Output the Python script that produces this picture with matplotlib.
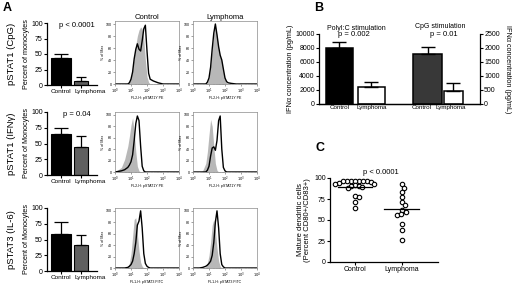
import numpy as np
import matplotlib
matplotlib.use("Agg")
import matplotlib.pyplot as plt
import matplotlib.transforms as mtransforms

plt.rcParams['font.family'] = ['Liberation Sans', 'DejaVu Sans']

# ---------------- data ----------------
groups = ["Control", "Lymphoma"]
row_labels = ["pSTAT1 (CpG)", "pSTAT1 (IFN\u03b3)", "pSTAT3 (IL-6)"]
row_ylabels = ["Percent of monocytes", "Percent of Monocytes", "Percent of Monocytes"]
row_pvals = ["p < 0.0001", "p = 0.04", ""]
pct_mean = [[43, 6], [65, 44], [59, 41]]
pct_err = [[7, 7], [9, 18], [18, 16]]

# histogram channels (fluorescence intensity) and % of max
fl_channel = [1, 2.5, 4, 6.3, 7.9, 10, 12.6, 15.8, 20, 25, 31.6, 40, 50, 63, 79,
              100, 126, 158, 251, 501, 1000, 10000]
hist_gray = [
    [[0, 0, 0, 0, 3, 10, 25, 45, 65, 80, 90, 95, 92, 75, 40, 12, 3, 0, 0, 0, 0, 0],
     [0, 0, 0, 0, 3, 10, 30, 60, 85, 98, 80, 60, 45, 38, 22, 8, 2, 0, 0, 0, 0, 0]],
    [[0, 8, 22, 45, 62, 82, 95, 70, 35, 10, 2, 0, 0, 0, 0, 0, 0, 0, 0, 0, 0, 0],
     [0, 0, 2, 15, 35, 65, 92, 80, 45, 15, 3, 0, 0, 0, 0, 0, 0, 0, 0, 0, 0, 0]],
    [[0, 0, 0, 2, 8, 25, 55, 85, 88, 60, 30, 10, 3, 0, 0, 0, 0, 0, 0, 0, 0, 0],
     [0, 0, 0, 2, 8, 22, 45, 75, 85, 65, 35, 12, 3, 0, 0, 0, 0, 0, 0, 0, 0, 0]],
]
hist_black = [
    [[0, 0, 0, 0, 2, 8, 20, 42, 58, 67, 58, 55, 72, 92, 98, 55, 18, 8, 5, 2, 0, 0],
     [0, 0, 0, 0, 3, 10, 28, 58, 85, 100, 82, 62, 48, 40, 25, 10, 4, 2, 1, 0, 0, 0]],
    [[0, 2, 4, 8, 12, 18, 30, 55, 85, 98, 90, 45, 10, 2, 0, 0, 0, 0, 0, 0, 0, 0],
     [0, 0, 0, 0, 3, 10, 28, 42, 44, 38, 55, 90, 98, 40, 8, 2, 0, 0, 0, 0, 0, 0]],
    [[0, 0, 0, 1, 3, 6, 12, 25, 45, 75, 82, 100, 70, 25, 8, 3, 1, 0, 0, 0, 0, 0],
     [0, 0, 1, 3, 5, 8, 12, 22, 45, 80, 100, 70, 25, 6, 2, 0, 0, 0, 0, 0, 0, 0]],
]
hist_xlabels = ["FL2-H: pSTAT1Y PE", "FL2-H: pSTAT1Y PE", "FL1-H: pSTAT3 FITC"]

# panel B
ifn_titles = ["PolyI:C stimulation", "CpG stimulation"]
ifn_pvals = ["p = 0.002", "p = 0.01"]
ifn_polyic_mean = [8000, 2400]
ifn_polyic_err = [850, 700]
ifn_cpg_mean = [1800, 470]
ifn_cpg_err = [220, 270]

# panel C
dc_control = [97, 97, 97, 96, 96, 96, 96, 95, 94, 93, 93, 92, 91, 90, 89, 88, 78, 77, 71, 64]
dc_lymphoma = [92.5, 88.5, 83, 77, 71, 68, 61.5, 60, 56, 57, 45.6, 38, 25.8]

# ---------------- layout helpers ----------------
W, H = 520, 285
fig = plt.figure(figsize=(W / 100, H / 100), dpi=100)


def box(l, t, r, b):
    return [l / W, 1 - b / H, (r - l) / W, (b - t) / H]


def fx(x):
    return x / W


def fy(y):
    return 1 - y / H


def shift_labels(ax, shifts_px):
    for lab, dx in zip(ax.get_xticklabels(), shifts_px):
        off = mtransforms.ScaledTranslation(dx / 100.0, 0, fig.dpi_scale_trans)
        lab.set_transform(lab.get_transform() + off)


FS = 5.0
FSX = 4.6


def prism_axes(ax):
    for s in ["top", "right"]:
        ax.spines[s].set_visible(False)
    for s in ["left", "bottom"]:
        ax.spines[s].set_linewidth(0.9)
    ax.tick_params(axis="both", labelsize=FS, length=2, width=0.8, pad=1)
    ax.tick_params(axis="x", labelsize=FSX)


# panel letters
fig.text(fx(3), fy(8), "A", fontsize=9, fontweight="bold", va="center", ha="left")
fig.text(fx(314), fy(8), "B", fontsize=9, fontweight="bold", va="center", ha="left")
fig.text(fx(315), fy(148), "C", fontsize=9, fontweight="bold", va="center", ha="left")

# ---------------- panel A ----------------
bar_tops = [23, 112, 208]
bar_bots = [85, 175, 271]
hist_tops = [21, 112, 208]
hist_bots = [84, 172, 268]
hist_cols = [(115, 179), (193, 257)]
bar_colors = ["black", "#606060"]
bar_widths = [1.0, 0.7]
capsizes = [5, 3.5]

for r in range(3):
    ax = fig.add_axes(box(47, bar_tops[r], 97, bar_bots[r]))
    xs = np.arange(len(groups))
    ax.bar(xs, pct_mean[r], width=bar_widths, color=bar_colors, edgecolor="black", linewidth=0.8)
    for i in range(len(groups)):
        ax.errorbar(xs[i], pct_mean[r][i], yerr=[[0], [pct_err[r][i]]], color="black",
                    capsize=capsizes[i], elinewidth=0.9, capthick=0.9, fmt="none")
    ax.set_xlim(-0.7, 1.8)
    ax.set_ylim(0, 100)
    ax.set_yticks([0, 25, 50, 75, 100])
    ax.set_xticks(xs)
    ax.set_xticklabels(groups)
    prism_axes(ax)
    shift_labels(ax, [0, 9])
    ax.set_ylabel(row_ylabels[r], fontsize=5.2, labelpad=1)
    if row_pvals[r]:
        fig.text(fx(77), fy(bar_tops[r] + 2.5), row_pvals[r], ha="center", va="center", fontsize=5.5)
    yc = (bar_tops[r] + bar_bots[r]) / 2
    fig.text(fx(12), fy(yc), row_labels[r], rotation=90, fontsize=6.8, ha="center", va="center")

    for c in range(2):
        l, rr = hist_cols[c]
        hx = fig.add_axes(box(l, hist_tops[r], rr, hist_bots[r]))
        hx.fill_between(fl_channel, hist_gray[r][c], 0, color="#b8b8b8", linewidth=0)
        hx.plot(fl_channel, hist_black[r][c], color="black", linewidth=1.0)
        hx.set_xscale("log")
        hx.set_xlim(1, 1e4)
        hx.set_ylim(0, 105)
        hx.set_xticks([1, 10, 100, 1000, 10000])
        hx.set_xticklabels([r"$10^0$", r"$10^1$", r"$10^2$", r"$10^3$", r"$10^4$"])
        hx.set_yticks([0, 20, 40, 60, 80, 100])
        hx.tick_params(axis="both", which="major", labelsize=2.6, length=1.5, width=0.4, pad=0.5,
                       color="#555555")
        hx.tick_params(axis="x", which="minor", length=0.8, width=0.3, color="#777777")
        for s in hx.spines.values():
            s.set_linewidth(0.5)
            s.set_color("#8a8a8a")
        hx.set_ylabel("% of Max", fontsize=2.6, labelpad=0.8)
        hx.set_xlabel(hist_xlabels[r], fontsize=2.6, labelpad=0.3)
        if r == 0:
            hx.set_title(groups[c], fontsize=5.5, pad=1.5)

# ---------------- panel B ----------------
axL = fig.add_axes(box(319, 34, 480, 104))
axR = axL.twinx()
pos_poly = [0, 1]
pos_cpg = [2.75, 3.56]
w_poly = [0.84, 0.84]
w_cpg = [0.9, 0.6]
axL.bar(pos_poly, ifn_polyic_mean, width=w_poly, color=["black", "white"], edgecolor="black", linewidth=1.1)
for i in range(2):
    axL.errorbar(pos_poly[i], ifn_polyic_mean[i], yerr=[[0], [ifn_polyic_err[i]]], color="black",
                 capsize=5, elinewidth=1.0, capthick=1.0, fmt="none")
axR.bar(pos_cpg, ifn_cpg_mean, width=w_cpg, color=["#383838", "white"], edgecolor="black", linewidth=1.1)
for i in range(2):
    axR.errorbar(pos_cpg[i], ifn_cpg_mean[i], yerr=[[0], [ifn_cpg_err[i]]], color="black",
                 capsize=5, elinewidth=1.0, capthick=1.0, fmt="none")
axL.set_xlim(-0.64, 4.39)
axL.set_ylim(0, 10000)
axR.set_ylim(0, 2500)
axL.set_yticks(range(0, 10001, 2000))
axR.set_yticks(range(0, 2501, 500))
axL.set_xticks(pos_poly + pos_cpg)
axL.set_xticklabels(groups + groups)
for a in (axL, axR):
    a.spines["top"].set_visible(False)
    for s in ["left", "bottom", "right"]:
        a.spines[s].set_linewidth(0.9)
    a.tick_params(axis="both", labelsize=FS, length=2, width=0.8, pad=1)
axL.tick_params(axis="x", length=0, labelsize=4.5)
shift_labels(axL, [0, 0, -6, -3])
axL.spines["right"].set_visible(False)
axR.spines["left"].set_visible(False)
axL.set_ylabel("IFN\u03b1 concentration (pg/mL)", fontsize=5.2, labelpad=1)
axR.set_ylabel("IFN\u03b1 concentration (pg/mL)", fontsize=5.2, labelpad=3, rotation=270, va="bottom")
fig.text(fx(356), fy(28), ifn_titles[0], fontsize=5, ha="center", va="center")
fig.text(fx(354), fy(35), ifn_pvals[0], fontsize=5.5, ha="center", va="center")
fig.text(fx(440), fy(27), ifn_titles[1], fontsize=5, ha="center", va="center")
fig.text(fx(444), fy(34), ifn_pvals[1], fontsize=5.5, ha="center", va="center")

# ---------------- panel C ----------------
axC = fig.add_axes(box(330, 178, 438, 262))
px_per_unit_x = 47.0
px_per_unit_y = 84.0 / 100.0
diam = 4.0


def swarm(values):
    order = np.argsort(values)[::-1]
    placed = []
    offs = np.zeros(len(values))
    for idx in order:
        y = values[idx] * px_per_unit_y
        cands = [0.0]
        for (px, py) in placed:
            dy = abs(py - y)
            if dy < diam:
                dx = np.sqrt(diam ** 2 - dy ** 2)
                cands += [px + dx, px - dx]
        cands = sorted(cands, key=abs)
        for cx in cands:
            ok = all((cx - px) ** 2 + (y - py) ** 2 >= diam ** 2 - 1e-6 for (px, py) in placed)
            if ok:
                break
        placed.append((cx, y))
        offs[idx] = cx / px_per_unit_x
    return offs


for gi, vals in enumerate([dc_control, dc_lymphoma]):
    vals = np.asarray(vals, dtype=float)
    offs = swarm(vals)
    axC.plot(gi + offs, vals, linestyle="none", marker="o", markersize=3.2,
             markerfacecolor="white", markeredgecolor="black", markeredgewidth=0.8)
    m = np.mean(vals)
    axC.plot([gi - 0.37, gi + 0.37], [m, m], color="black", linewidth=0.9)
axC.set_xlim(-0.53, 1.77)
axC.set_ylim(0, 100)
axC.set_yticks([0, 25, 50, 75, 100])
axC.set_xticks([0, 1])
axC.set_xticklabels(groups)
prism_axes(axC)
axC.tick_params(axis="x", labelsize=5)
for p in axC.lines:
    p.set_clip_on(False)
axC.set_ylabel("Mature dendritic cells\n(Percent CD80+/CD83+)", fontsize=5.5, labelpad=2, linespacing=1.0)
fig.text(fx(381), fy(172), "p < 0.0001", fontsize=5.5, ha="center", va="center")

fig.savefig("out.png", dpi=100)
